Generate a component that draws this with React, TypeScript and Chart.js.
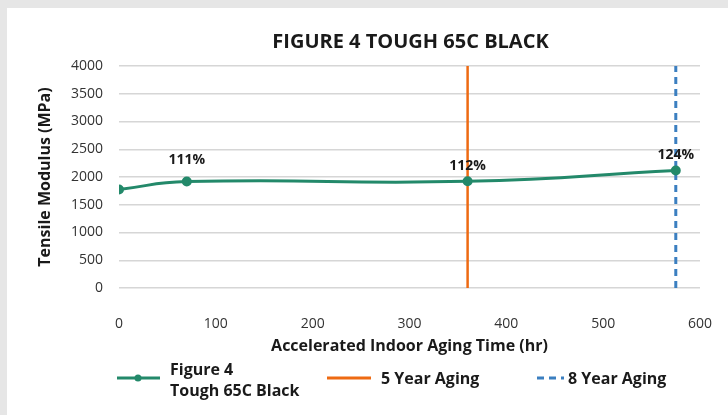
import React, { useEffect, useRef } from "react";
import { Chart, registerables } from "chart.js";

Chart.register(...registerables);

const hours = [0, 70, 360, 575];
const modulus = [1775, 1918, 1922, 2118];
const pctLabels = ["", "111%", "112%", "124%"];
const fiveYearHr = 360;
const eightYearHr = 575;
const yRange = [0, 4000];
const xTicks = [0, 100, 200, 300, 400, 500, 600];
const chartTitle = "FIGURE 4 TOUGH 65C BLACK";

const GREEN = "#23896a";
const ORANGE = "#ee6a12";
const BLUE = "#3b7fc0";
const FONT = "'Open Sans', 'DejaVu Sans', sans-serif";

const labelOffsets = [0, 22, 15, 15];

const labelPlugin = {
  id: "pctLabels",
  afterDatasetsDraw(chart: any) {
    const ctx = chart.ctx;
    const meta = chart.getDatasetMeta(0);
    ctx.save();
    ctx.font = `bold 14px ${FONT}`;
    ctx.fillStyle = "#1a1a1a";
    ctx.textAlign = "center";
    ctx.textBaseline = "middle";
    meta.data.forEach((pt: any, i: number) => {
      const t = pctLabels[i];
      if (!t) return;
      ctx.fillText(t, pt.x, pt.y - labelOffsets[i]);
    });
    ctx.restore();
  },
};

const titlePlugin = {
  id: "areaTitle",
  afterDraw(chart: any) {
    const ctx = chart.ctx;
    const a = chart.chartArea;
    ctx.save();
    ctx.font = `bold 20px ${FONT}`;
    ctx.fillStyle = "#1a1a1a";
    ctx.textAlign = "center";
    ctx.textBaseline = "middle";
    ctx.fillText(chartTitle, (a.left + a.right) / 2 + 1, 34);
    ctx.restore();
  },
};

const legendPlugin = {
  id: "customLegend",
  afterDraw(chart: any) {
    const ctx = chart.ctx;
    const y = 370;
    ctx.save();
    ctx.font = `bold 16px ${FONT}`;
    ctx.fillStyle = "#1a1a1a";
    ctx.textBaseline = "middle";
    ctx.textAlign = "left";
    // item 1
    ctx.strokeStyle = GREEN;
    ctx.lineWidth = 3;
    ctx.beginPath();
    ctx.moveTo(110, y);
    ctx.lineTo(153, y);
    ctx.stroke();
    ctx.fillStyle = GREEN;
    ctx.beginPath();
    ctx.arc(131, y, 3.5, 0, Math.PI * 2);
    ctx.fill();
    ctx.fillStyle = "#1a1a1a";
    ctx.fillText(chart.data.datasets[0].label[0], 163, y - 8);
    ctx.fillText(chart.data.datasets[0].label[1], 163, y + 13);
    // item 2
    ctx.strokeStyle = ORANGE;
    ctx.lineWidth = 3;
    ctx.beginPath();
    ctx.moveTo(320, y);
    ctx.lineTo(364, y);
    ctx.stroke();
    ctx.fillText(chart.data.datasets[1].label, 374, y + 1);
    // item 3
    ctx.strokeStyle = BLUE;
    ctx.lineWidth = 3;
    ctx.setLineDash([7, 5]);
    ctx.beginPath();
    ctx.moveTo(530, y);
    ctx.lineTo(557, y);
    ctx.stroke();
    ctx.setLineDash([]);
    ctx.fillText(chart.data.datasets[2].label, 561, y + 1);
    ctx.restore();
  },
};

export default function App() {
  const ref = useRef<HTMLCanvasElement | null>(null);

  useEffect(() => {
    document.body.style.margin = "0";
    const chart = new Chart(ref.current as HTMLCanvasElement, {
      type: "line",
      data: {
        datasets: [
          {
            label: ["Figure 4", "Tough 65C Black"] as any,
            data: hours.map((h, i) => ({ x: h, y: modulus[i] })),
            borderColor: GREEN,
            backgroundColor: GREEN,
            borderWidth: 3,
            pointRadius: 3.5,
            pointBackgroundColor: GREEN,
            pointBorderColor: GREEN,
            tension: 0.5,
          },
          {
            label: "5 Year Aging",
            data: [
              { x: fiveYearHr, y: yRange[0] },
              { x: fiveYearHr, y: yRange[1] },
            ],
            borderColor: ORANGE,
            borderWidth: 2.5,
            pointRadius: 0,
          },
          {
            label: "8 Year Aging",
            data: [
              { x: eightYearHr, y: yRange[0] },
              { x: eightYearHr, y: yRange[1] },
            ],
            borderColor: BLUE,
            borderWidth: 3,
            borderDash: [7, 5],
            pointRadius: 0,
          },
        ],
      },
      options: {
        responsive: false,
        animation: false,
        layout: { padding: { left: 0, right: 28, top: 58, bottom: 57 } },
        plugins: {
          legend: { display: false },
          tooltip: { enabled: false },
          title: { display: false },
        },
        scales: {
          x: {
            type: "linear",
            min: xTicks[0],
            max: xTicks[xTicks.length - 1],
            afterBuildTicks(scale: any) {
              scale.ticks = xTicks.map((v) => ({ value: v }));
            },
            afterFit(scale: any) {
              scale.height = 70;
              scale.paddingLeft = 0;
              scale.paddingRight = 0;
            },
            grid: { display: false, drawTicks: false },
            border: { display: false },
            ticks: {
              color: "#333",
              font: { family: FONT, size: 14 },
              padding: 28,
              maxRotation: 0,
              callback: (v: any) => String(v),
            },
            title: {
              display: true,
              text: "Accelerated Indoor Aging Time (hr)",
              color: "#1a1a1a",
              font: { family: FONT, size: 16, weight: "bold" },
              padding: { top: 0, bottom: 2 },
            },
          },
          y: {
            min: yRange[0],
            max: yRange[1],
            ticks: {
              stepSize: 500,
              color: "#333",
              font: { family: FONT, size: 14 },
              padding: 16,
              callback: (v: any) => String(v),
            },
            afterFit(scale: any) {
              scale.width = 112;
            },
            grid: { color: "#d6d6d6", lineWidth: 1.5, drawTicks: false },
            border: { display: false },
            title: {
              display: true,
              text: "Tensile Modulus (MPa)",
              color: "#1a1a1a",
              font: { family: FONT, size: 16, weight: "bold" },
              padding: { top: 29, bottom: 0 },
            },
          },
        },
      },
      plugins: [labelPlugin, titlePlugin, legendPlugin],
    } as any);
    return () => chart.destroy();
  }, []);

  return (
    <div
      style={{
        position: "fixed",
        left: 0,
        top: 0,
        width: 728,
        height: 415,
        background: "#e6e6e6",
      }}
    >
      <div
        style={{
          position: "absolute",
          left: 7,
          top: 8,
          width: 721,
          height: 407,
          background: "#ffffff",
        }}
      >
        <canvas ref={ref} width={721} height={407} style={{ display: "block" }} />
      </div>
    </div>
  );
}
